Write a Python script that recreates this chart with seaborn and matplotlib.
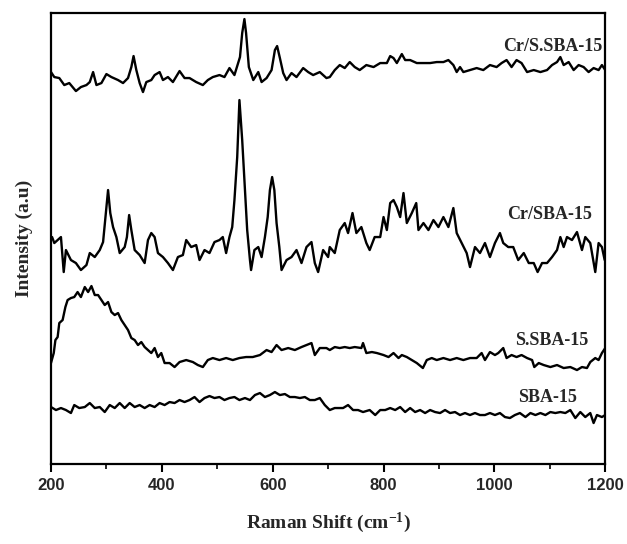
import numpy as np
import pandas as pd
import matplotlib
matplotlib.use("Agg")
import matplotlib.pyplot as plt
import seaborn as sns
from matplotlib.ticker import MultipleLocator

# ---- data (arbitrary intensity units) ----
cr_s_x = [200, 206, 215, 224, 233, 245, 254, 264, 270, 276, 282, 291, 300, 309, 321, 330, 339, 345, 349, 354,
          360, 366, 372, 381, 387, 396, 402, 411, 420, 432, 441, 450, 462, 474, 483, 492, 504, 513, 522, 531,
          541, 545, 549, 552, 557, 565, 574, 580, 589, 598, 604, 608, 613, 619, 625, 634, 643, 655, 664, 673,
          685, 697, 703, 712, 721, 730, 739, 748, 757, 769, 782, 794, 806, 812, 818, 824, 833, 839, 848, 860,
          872, 884, 896, 908, 917, 926, 932, 938, 944, 956, 968, 980, 992, 1004, 1013, 1022, 1031, 1040, 1049,
          1059, 1071, 1083, 1095, 1104, 1113, 1119, 1125, 1134, 1143, 1152, 1161, 1170, 1179, 1188, 1194, 1200]
cr_s_y = [392, 387, 386, 379, 381, 373, 377, 379, 382, 392, 379, 381, 390, 387, 384, 381, 386, 397, 408, 394,
          381, 372, 382, 384, 389, 392, 384, 387, 382, 393, 386, 386, 382, 379, 384, 387, 389, 387, 396, 389,
          407, 431, 445, 431, 397, 384, 392, 382, 386, 394, 414, 418, 406, 391, 384, 391, 387, 396, 392, 389,
          392, 386, 387, 394, 399, 396, 402, 397, 394, 399, 397, 401, 401, 408, 406, 401, 410, 404, 404, 401,
          401, 401, 402, 402, 404, 399, 392, 397, 392, 394, 396, 394, 399, 397, 401, 404, 397, 404, 401,
          392, 394, 392, 394, 399, 402, 407, 399, 402, 394, 399, 397, 392, 396, 394, 399, 394]

cr_x = [202, 206, 212, 218, 223, 227, 236, 245, 254, 264, 270, 279, 288, 294, 300, 303, 307, 312, 318, 324,
        333, 337, 341, 345, 351, 360, 369, 375, 381, 387, 393, 402, 411, 420, 429, 438, 444, 453, 462, 468,
        477, 486, 495, 504, 510, 516, 522, 527, 531, 536, 540, 545, 550, 554, 559, 561, 567, 574, 580, 586,
        591, 595, 599, 603, 607, 612, 616, 625, 634, 643, 652, 661, 670, 676, 682, 691, 700,
        703, 712, 721, 730, 736, 744, 751, 760, 769, 775, 784, 794, 800, 806, 812, 818, 824, 830, 836,
        842, 851, 859, 863, 872, 881, 890, 899, 908, 917, 926, 932, 941, 950, 956, 965, 974, 983, 992,
        1001, 1010, 1016, 1025, 1034, 1043, 1053, 1062, 1071, 1078, 1086, 1095, 1104, 1113, 1119, 1125,
        1131, 1140, 1149, 1158, 1164, 1173, 1182, 1188, 1194, 1199]
cr_y = [227, 221, 224, 227, 192, 214, 204, 201, 194, 199, 211, 207, 214, 222, 257, 274, 251, 237, 227, 211,
        217, 227, 249, 234, 214, 209, 201, 224, 231, 227, 211, 207, 201, 194, 207, 209, 224, 217, 219, 204,
        214, 211, 222, 224, 227, 211, 227, 237, 264, 307, 364, 324, 274, 234, 204, 194, 214, 217, 207, 227,
        247, 274, 287, 274, 241, 217, 194, 204, 207, 214, 201, 217, 222, 201, 192, 214, 207,
        217, 211, 234, 241, 231, 251, 231, 237, 221, 214, 227, 227, 247, 234, 261, 264, 257, 247, 271,
        241, 251, 261, 234, 241, 234, 244, 237, 247, 237, 256, 231, 221, 211, 197, 217, 211, 221, 207,
        221, 231, 221, 217, 217, 204, 211, 201, 201, 192, 201, 201, 207, 214, 227, 217,
        227, 224, 232, 214, 227, 221, 192, 221, 217, 204]

s_x = [200, 205, 208, 212, 215, 221, 226, 230, 236, 242, 248, 254, 261, 267, 273, 279, 285, 291, 297, 303,
       309, 315, 321, 327, 333, 339, 345, 351, 357, 363, 369, 375, 381, 387, 393, 399, 405, 414, 423, 432,
       444, 456, 465, 474, 483, 492, 504, 516, 528, 540, 552, 564, 577, 589, 598, 607, 616, 628, 640, 652,
       661, 670, 676, 685, 697, 703, 712, 721, 730, 739, 748, 760, 763, 769, 779, 788, 800, 809, 818, 827,
       833, 842, 851, 860, 871, 878, 887, 896, 908, 920, 932, 944, 956, 968, 977, 983, 992, 1001, 1007,
       1016, 1022, 1031, 1040, 1049, 1059, 1068, 1072, 1080, 1089, 1101, 1113, 1125, 1137, 1149, 1158,
       1167, 1173, 1182, 1188, 1194, 1200]
s_y = [101, 111, 124, 127, 141, 144, 157, 164, 166, 167, 172, 167, 177, 172, 178, 169, 169, 164, 159, 162,
       152, 149, 151, 144, 139, 134, 126, 124, 119, 122, 117, 114, 111, 116, 107, 111, 101, 101, 97, 102,
       104, 102, 99, 97, 104, 106, 104, 106, 104, 106, 107, 107, 109, 114, 112, 119, 114, 116, 114, 117,
       119, 121, 109, 116, 116, 114, 117, 116, 117, 116, 117, 116, 121, 111, 112, 111, 109, 107, 111, 106,
       109, 107, 104, 101, 96, 104, 106, 104, 106, 104, 106, 104, 106, 106, 111, 104, 112, 109, 111,
       116, 106, 109, 107, 109, 106, 104, 97, 101, 99, 97, 99, 96, 97, 94, 97,
       96, 102, 106, 104, 111, 116]

sba_x = [200, 209, 218, 227, 236, 242, 251, 261, 270, 279, 288, 297, 306, 315, 324, 333, 342, 351, 360, 369,
         378, 387, 396, 405, 414, 423, 432, 441, 450, 459, 468, 477, 486, 495, 504, 513, 522, 531, 540, 550,
         559, 568, 577, 586, 595, 604, 613, 622, 631, 640, 649, 658, 667, 676, 685, 694, 703, 712, 727, 736,
         745, 754, 763, 775, 785, 794, 803, 812, 821, 830, 839, 848, 857, 866, 875, 884, 893, 902, 911, 920,
         929, 938, 947, 956, 965, 974, 983, 992, 1001, 1010, 1019, 1028, 1037, 1046, 1056, 1065, 1074, 1083,
         1092, 1101, 1110, 1119, 1128, 1137, 1146, 1155, 1164, 1173, 1179, 1185, 1194, 1200]
sba_y = [57, 54, 56, 54, 51, 59, 56, 57, 61, 56, 57, 52, 59, 56, 61, 56, 61, 57, 59, 56,
         59, 57, 61, 59, 62, 61, 64, 62, 64, 67, 62, 66, 68, 66, 67, 64, 66, 67, 64, 66,
         64, 69, 71, 67, 69, 72, 69, 70, 67, 67, 66, 67, 64, 64, 66, 59, 54, 56, 56, 59,
         54, 54, 52, 54, 49, 54, 54, 56, 54, 57, 52, 56, 52, 54, 51, 54, 52, 51, 54, 51,
         52, 49, 51, 49, 51, 49, 49, 51, 49, 51, 47, 46, 49, 51, 47, 51, 49, 51,
         49, 52, 51, 52, 51, 54, 46, 52, 47, 51, 41, 49, 47, 49]

labels = ["Cr/S.SBA-15", "Cr/SBA-15", "S.SBA-15", "SBA-15"]
x_ticks = [200, 400, 600, 800, 1000, 1200]

# ---- plotting ----
sns.set_style("white")
plt.rcParams['font.family'] = ['Liberation Serif', 'DejaVu Serif']
plt.rcParams['mathtext.fontset'] = 'custom'
plt.rcParams['mathtext.rm'] = 'Liberation Serif:bold'
plt.rcParams['mathtext.bf'] = 'Liberation Serif:bold'
plt.rcParams['mathtext.it'] = 'Liberation Serif:bold'

fig = plt.figure(figsize=(6.27, 5.44), dpi=100)
ax = fig.add_axes([0.0813, 0.147, 0.884, 0.829])

series = [(cr_s_x, cr_s_y), (cr_x, cr_y), (s_x, s_y), (sba_x, sba_y)]
for (xs, ys), lab in zip(series, labels):
    df = pd.DataFrame({"x": xs, "y": ys})
    sns.lineplot(data=df, x="x", y="y", ax=ax, color="black", linewidth=1.7,
                 sort=False, estimator=None)

ax.set_xlim(200, 1200)
ax.set_ylim(0, 451)

label_pos = [(1195, 418), (1177, 250), (1169, 124), (1149, 67)]
for lab, (tx, ty) in zip(labels, label_pos):
    ax.text(tx, ty, lab, ha="right", va="center", fontsize=13,
            fontweight="bold", family=['Liberation Serif'])

ax.set_xticks(x_ticks)
ax.set_xticklabels([str(t) for t in x_ticks], family=['Liberation Sans', 'DejaVu Sans'],
                   fontweight="bold", fontsize=12)
ax.xaxis.set_minor_locator(MultipleLocator(100))
ax.tick_params(axis="x", which="major", direction="out", length=6, width=1.5,
               bottom=True, top=False, pad=4, color="black")
ax.tick_params(axis="x", which="minor", direction="out", length=3.5, width=1.2,
               bottom=True, top=False, color="black")
ax.set_yticks([])

for sp in ax.spines.values():
    sp.set_visible(True)
    sp.set_color("black")
    sp.set_linewidth(1.6)

ax.set_xlabel("Raman Shift (cm$^{\\mathrm{-1}}$)", fontsize=14, fontweight="bold",
              family=['Liberation Serif'], labelpad=13)
ax.set_ylabel("Intensity (a.u)", fontsize=14, fontweight="bold",
              family=['Liberation Serif'], labelpad=13)

fig.savefig("out.png", dpi=100)
